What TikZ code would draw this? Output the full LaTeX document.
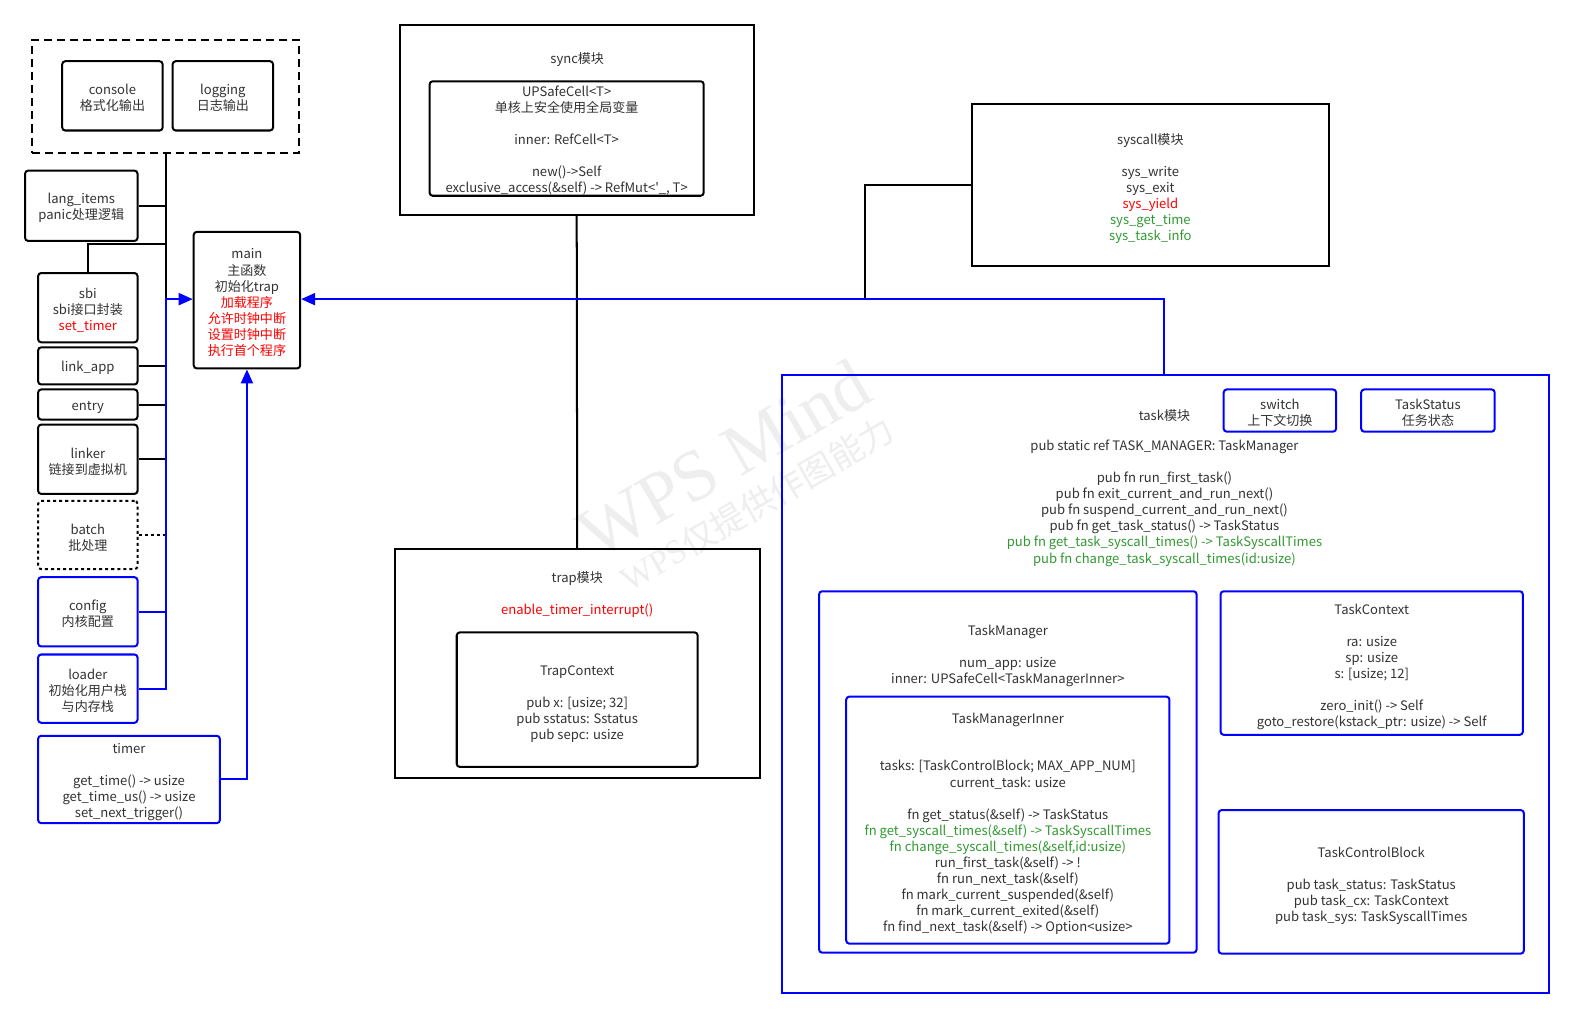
\documentclass[tikz,border=0pt]{standalone}
\usepackage{fontspec}
\setmainfont{Noto Sans CJK SC}
\newfontfamily\plainf{Noto Sans CJK SC}
\newfontfamily\wmfont{Liberation Serif}
\usetikzlibrary{arrows.meta}
\definecolor{txt}{HTML}{333333}
\definecolor{rd}{HTML}{FF0000}
\definecolor{gn}{HTML}{339933}
\definecolor{bl}{HTML}{0000FF}
\definecolor{wm}{HTML}{EEEEEE}
\newcommand\tsx{\rule{0pt}{15pt}}
\newcommand\apos{{\plainf '}}
\tikzset{
  kbox/.style={draw=black, line width=2pt, rounded corners=3pt},
  bbox/.style={draw=bl, line width=2pt, rounded corners=3pt},
  sqbox/.style={draw=black, line width=2pt},
  bsqbox/.style={draw=bl, line width=2pt},
  dashbox/.style={draw=black, line width=2pt, dash pattern=on 8pt off 5pt},
  dotbox/.style={draw=black, line width=2pt, rounded corners=3pt, dash pattern=on 3pt off 3pt},
  link/.style={draw=black, line width=2pt},
  blink/.style={draw=bl, line width=2pt},
  arr/.style={-{Triangle[length=14pt,width=12pt]}},
  wmtext/.style={text=wm, inner sep=0pt}
}
\begin{document}
\begin{tikzpicture}[x=1pt,y=-1pt,
  every node/.style={font=\fontsize{13}{16}\selectfont, text=txt, align=center, inner sep=0pt}]
\fill[white] (0,0) rectangle (1568,1014);
\useasboundingbox (0,0) rectangle (1568,1014);

% watermark
\node[wmtext, rotate=30, font=\wmfont\fontsize{72}{72}\selectfont] (wm1) at (721,457) {WPS Mind};
\node[wmtext, rotate=30, font=\fontsize{34}{34}\selectfont] (wm2) at (754,502) {{\wmfont WPS}仅提供作图能力};

% left column
\node[dashbox, minimum width=266pt, minimum height=112pt] (util) at (165,96) {};
\node[kbox, minimum width=100pt, minimum height=69pt] (console) at (112,95.5) {\tsx console\\格式化输出};
\node[kbox, minimum width=100pt, minimum height=69pt] (logging) at (222,95.5) {\tsx logging\\日志输出};
\node[kbox, minimum width=112pt, minimum height=70pt] (lang) at (81,205) {\tsx lang\_items\\panic处理逻辑};
\node[kbox, minimum width=99pt, minimum height=69pt] (sbi) at (87.5,306.5) {\tsx sbi\\sbi接口封装\\\textcolor{rd}{set\_timer}};
\node[kbox, minimum width=99pt, minimum height=37pt] (linkapp) at (87.5,364.5) {\tsx link\_app};
\node[kbox, minimum width=99pt, minimum height=30pt] (entry) at (87.5,403) {\tsx entry};
\node[kbox, minimum width=99pt, minimum height=69pt] (linker) at (87.5,457.5) {\tsx linker\\链接到虚拟机};
\node[dotbox, minimum width=99pt, minimum height=68pt] (batch) at (87.5,533) {\tsx batch\\批处理};
\node[bbox, minimum width=99pt, minimum height=69pt] (config) at (87.5,609.5) {\tsx config\\内核配置};
\node[bbox, minimum width=99pt, minimum height=68pt] (loader) at (87.5,686) {\tsx loader\\初始化用户栈\\与内存栈};
\node[bbox, minimum width=181pt, minimum height=87pt] (timer) at (128.5,776.5) {\tsx timer\\[16pt]get\_time() -> usize\\get\_time\_us() -> usize\\set\_next\_trigger()};
\node[kbox, minimum width=106pt, minimum height=136pt] (main) at (246,299) {\tsx main\\主函数\\初始化trap\\\textcolor{rd}{加载程序}\\\textcolor{rd}{允许时钟中断}\\\textcolor{rd}{设置时钟中断}\\\textcolor{rd}{执行首个程序}};

% sync
\node[sqbox, minimum width=353pt, minimum height=189pt] (sync) at (574.5,119.5) {};
\node (synct) at (575,57) {\tsx sync模块};
\node[kbox, minimum width=273pt, minimum height=114pt] (cell) at (564.5,138) {\tsx UPSafeCell<T>\\单核上安全使用全局变量\\[16pt]inner: RefCell<T>\\[16pt]new()->Self\\exclusive\_access(\&self) -> RefMut<\apos\_, T>};

% syscall
\node[sqbox, minimum width=356pt, minimum height=161pt] (syscall) at (1146,184.5) {};
\node (syscallt) at (1146,186) {\tsx syscall模块\\[16pt]sys\_write\\sys\_exit\\\textcolor{rd}{sys\_yield}\\\textcolor{gn}{sys\_get\_time}\\\textcolor{gn}{sys\_task\_info}};

% trap
\node[sqbox, minimum width=364pt, minimum height=228pt] (trap) at (575,661) {};
\node (trapt) at (575,574) {\tsx trap模块};
\node (trapf) at (575,606) {\tsx\textcolor{rd}{enable\_timer\_interrupt()}};
\node[kbox, minimum width=240pt, minimum height=134pt] (trapctx) at (575,697) {};
\node (trapctxt) at (575,699) {\tsx TrapContext\\[16pt]pub x: [usize; 32]\\pub sstatus: Sstatus\\pub sepc: usize};

% task
\node[bsqbox, minimum width=764pt, minimum height=615pt] (task) at (1161,681.5) {};
\node (taskt) at (1160,412) {\tsx task模块};
\node[bbox, minimum width=112pt, minimum height=42pt] (switch) at (1275,409) {\tsx switch\\上下文切换};
\node[bbox, minimum width=133pt, minimum height=42pt] (tstatus) at (1422.5,409) {\tsx TaskStatus\\任务状态};
\node (taskf) at (1160,499) {\tsx pub static ref TASK\_MANAGER: TaskManager\\[16pt]pub fn run\_first\_task()\\pub fn exit\_current\_and\_run\_next()\\pub fn suspend\_current\_and\_run\_next()\\pub fn get\_task\_status() -> TaskStatus\\\textcolor{gn}{pub fn get\_task\_syscall\_times() -> TaskSyscallTimes}\\\textcolor{gn}{pub fn change\_task\_syscall\_times(id:usize)}};

\node[bbox, minimum width=376pt, minimum height=360pt] (tm) at (1004,769) {};
\node (tmt) at (1004,651) {\tsx TaskManager\\[16pt]num\_app: usize\\inner: UPSafeCell<TaskManagerInner>};
\node[bbox, minimum width=322pt, minimum height=246pt] (tmi) at (1004,817) {};
\node (tmit) at (1004,715) {\tsx TaskManagerInner};
\node (tmif) at (1004,842) {\tsx tasks: [TaskControlBlock; MAX\_APP\_NUM]\\current\_task: usize\\[16pt]fn get\_status(\&self) -> TaskStatus\\\textcolor{gn}{fn get\_syscall\_times(\&self) -> TaskSyscallTimes}\\\textcolor{gn}{fn change\_syscall\_times(\&self,id:usize)}\\run\_first\_task(\&self) -> !\\fn run\_next\_task(\&self)\\fn mark\_current\_suspended(\&self)\\fn mark\_current\_exited(\&self)\\fn find\_next\_task(\&self) -> Option<usize>};

\node[bbox, minimum width=301pt, minimum height=143pt] (tc) at (1366.5,660.5) {};
\node (tct) at (1366.5,662) {\tsx TaskContext\\[16pt]ra: usize\\sp: usize\\s: [usize; 12]\\[16pt]zero\_init() -> Self\\goto\_restore(kstack\_ptr: usize) -> Self};
\node[bbox, minimum width=304pt, minimum height=143pt] (tcb) at (1366,878.5) {};
\node (tcbt) at (1366,880) {\tsx TaskControlBlock\\[16pt]pub task\_status: TaskStatus\\pub task\_cx: TaskContext\\pub task\_sys: TaskSyscallTimes};

% connectors
\coordinate (tj) at (165,298);
\coordinate (sj) at (88,243);
\coordinate (rj) at (1160,298);
\coordinate (scj) at (862,298);
\draw[link] (util.south) -- (tj);
\draw[link] (lang.east) -- (lang.east -| tj);
\draw[link] (sbi.north) -- (sbi.north |- sj) -- (sj -| tj);
\draw[link] (linkapp.east) -- (linkapp.east -| tj);
\draw[link] (entry.east) -- (entry.east -| tj);
\draw[link] (linker.east) -- (linker.east -| tj);
\draw[link, dash pattern=on 3pt off 3pt] (batch.east) -- (batch.east -| tj);
\draw[link] (syscall.west) -| (scj);
\draw[link] (sync.south) -- (trap.north);
\draw[blink] (config.east) -- (config.east -| tj);
\draw[blink, arr] (loader.east) -- (loader.east -| tj) -- (tj) -- (main.west |- tj);
\draw[blink, arr] (timer.east) -- (timer.east -| main.south) -- (main.south);
\draw[blink, arr] (task.north -| rj) -- (rj) -- (main.east |- rj);
\end{tikzpicture}
\end{document}
